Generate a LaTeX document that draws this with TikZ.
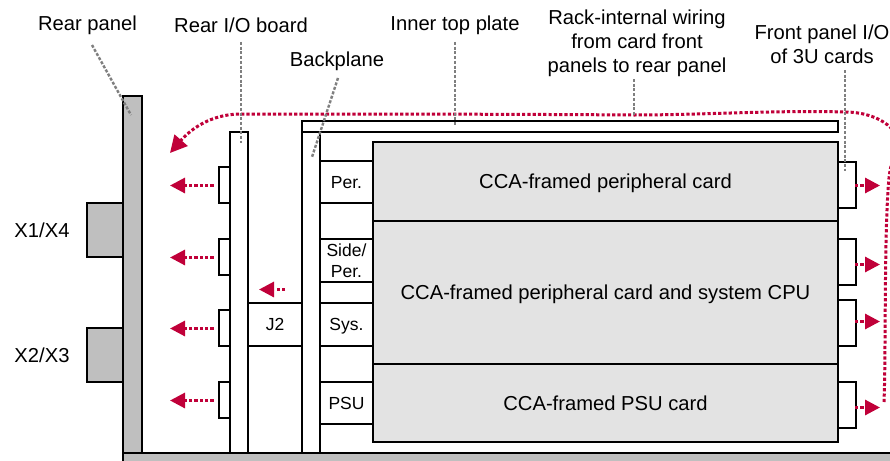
\documentclass[tikz,border=0pt]{standalone}
\usepackage{fontspec}
\setmainfont{Liberation Sans}
\usetikzlibrary{arrows.meta}
\definecolor{wirered}{HTML}{C00039}
\definecolor{leadgray}{HTML}{7F7F7F}
\definecolor{panelgray}{HTML}{BFBFBF}
\definecolor{cardgray}{HTML}{E3E3E3}
\tikzset{
  x=1pt,y=-1pt,
  box/.style={draw=black,line width=2pt,inner sep=0pt,outer sep=0pt,align=center,font=\fontsize{17.5}{21}\selectfont},
  panel/.style={box,fill=panelgray},
  plain/.style={box,fill=white},
  card/.style={box,fill=cardgray,font=\fontsize{20.2}{24}\selectfont},
  lbl/.style={inner sep=0pt,outer sep=0pt,align=center,font=\fontsize{20.2}{24}\selectfont},
  leader/.style={draw=leadgray,line width=2.4pt,dash pattern=on 3pt off 1.7pt},
  wire/.style={draw=wirered,line width=3pt,dash pattern=on 3.2pt off 2.1pt},
  flow/.style={wire,-{Triangle[length=15pt,width=15pt,fill=wirered]}},
  bigflow/.style={wire,-{Triangle[length=17pt,width=17pt,fill=wirered]}},
}
% name, x1, y1, x2, y2, style, text
\newcommand{\pbox}[7]{%
  \pgfmathsetmacro{\bw}{#4-#2}\pgfmathsetmacro{\bh}{#5-#3}%
  \pgfmathsetmacro{\bcx}{(#2+#4)/2}\pgfmathsetmacro{\bcy}{(#3+#5)/2}%
  \node[#6,minimum width=\bw pt,minimum height=\bh pt] (#1) at (\bcx,\bcy) {#7};}
\newcommand{\captxt}[2]{\raisebox{-#1pt}[0pt][0pt]{#2}}
\begin{document}
\begin{tikzpicture}
\clip (0,0) rectangle (890,460);
\fill[white] (0,0) rectangle (890,460);
% structure
\pbox{conA}{87}{203}{123}{257}{panel}{}
\pbox{conB}{87}{328}{123}{382}{panel}{}
\pbox{rear}{123}{96}{142}{470}{panel}{}
\pbox{ioa}{219}{167}{230}{203}{plain}{}
\pbox{iob}{219}{239}{230}{275}{plain}{}
\pbox{ioc}{219}{310}{230}{346}{plain}{}
\pbox{iod}{219}{382}{230}{418}{plain}{}
\pbox{rio}{230}{132}{248}{470}{plain}{}
\pbox{jtwo}{248}{303}{302}{346}{plain}{\captxt{6}{J2}}
\pbox{back}{302}{132}{320}{470}{plain}{}
\pbox{plate}{302}{121}{838}{132}{plain}{}
\pbox{per}{320}{161}{373}{203}{plain}{\captxt{6}{Per.}}
\pbox{side}{320}{239}{373}{282}{plain}{Side/\\Per.}
\pbox{sys}{320}{303}{373}{346}{plain}{\captxt{6}{Sys.}}
\pbox{psu}{320}{382}{373}{424}{plain}{\captxt{6}{PSU}}
\pbox{cardA}{373}{142}{838}{221}{card}{\captxt{7}{CCA-framed peripheral card}}
\pbox{cardB}{373}{221}{838}{364}{card}{\captxt{7}{CCA-framed peripheral card and system CPU}}
\pbox{cardC}{373}{364}{838}{442}{card}{\captxt{7}{CCA-framed PSU card}}
\pbox{fa}{838}{162}{856}{208}{plain}{}
\pbox{fb}{838}{239}{856}{285}{plain}{}
\pbox{fc}{838}{300}{856}{346}{plain}{}
\pbox{fd}{838}{382}{856}{428}{plain}{}
\pbox{base}{123}{453}{900}{470}{panel}{}
% labels
\node[lbl] (lrear) at (87.5,25) {Rear panel};
\node[lbl] (lrio) at (241,25) {Rear I/O board};
\node[lbl] (lback) at (337,61) {Backplane};
\node[lbl] (lplate) at (455,25) {Inner top plate};
\node[lbl] (lrack) at (637,43) {Rack-internal wiring\\from card front\\panels to rear panel};
\node[lbl] (lfront) at (822,44) {Front panel I/O\\of 3U cards};
\node[lbl] (lxa) at (42,230.5) {X1/X4};
\node[lbl] (lxb) at (42,355) {X2/X3};
% free ends
\coordinate (rearS) at (92,45); \coordinate (rearE) at (131,115);
\coordinate (rioS) at (241,42); \coordinate (rioE) at (241,143);
\coordinate (backS) at (338,78); \coordinate (backE) at (312,157);
\coordinate (plateS) at (455,42); \coordinate (plateE) at (455,126);
\coordinate (rackS) at (634,79); \coordinate (rackE) at (634,115);
\coordinate (frontS) at (845,70); \coordinate (frontE) at (845,171);
% wiring
\coordinate (wireS) at (884,402);
\coordinate (wireE) at (170,153);
\draw[bigflow] (wireS) .. controls (886,350) and (884,230) .. (889,178)
  .. controls (892,150) and (905,140) .. (890,127)
  .. controls (878,116) and (860,112) .. (845,112)
  .. controls (780,110) and (700,115) .. (634,115)
  .. controls (500,114) and (350,114) .. (241,114)
  .. controls (210,114) and (190,130) .. (wireE);
% leaders
\foreach \a/\b in {rearS/rearE,rioS/rioE,backS/backE,plateS/plateE,rackS/rackE,frontS/frontE}
  \draw[leader] (\a) -- (\b);
% flow arrows
\foreach \n/\y in {a/185.5,b/257.5,c/328.5,d/400.5}{
  \coordinate (ls\n) at (213.5,\y); \coordinate (le\n) at (170,\y);
  \draw[flow] (ls\n) -- (le\n);
}
\coordinate (js) at (285,289.5); \coordinate (je) at (259,289.5);
\draw[flow] (js) -- (je);
\foreach \n/\y in {a/185.5,b/264.5,c/321.5,d/407.5}{
  \coordinate (rs\n) at (855,\y); \coordinate (re\n) at (880,\y);
  \draw[flow] (rs\n) -- (re\n);
}
\end{tikzpicture}
\end{document}
